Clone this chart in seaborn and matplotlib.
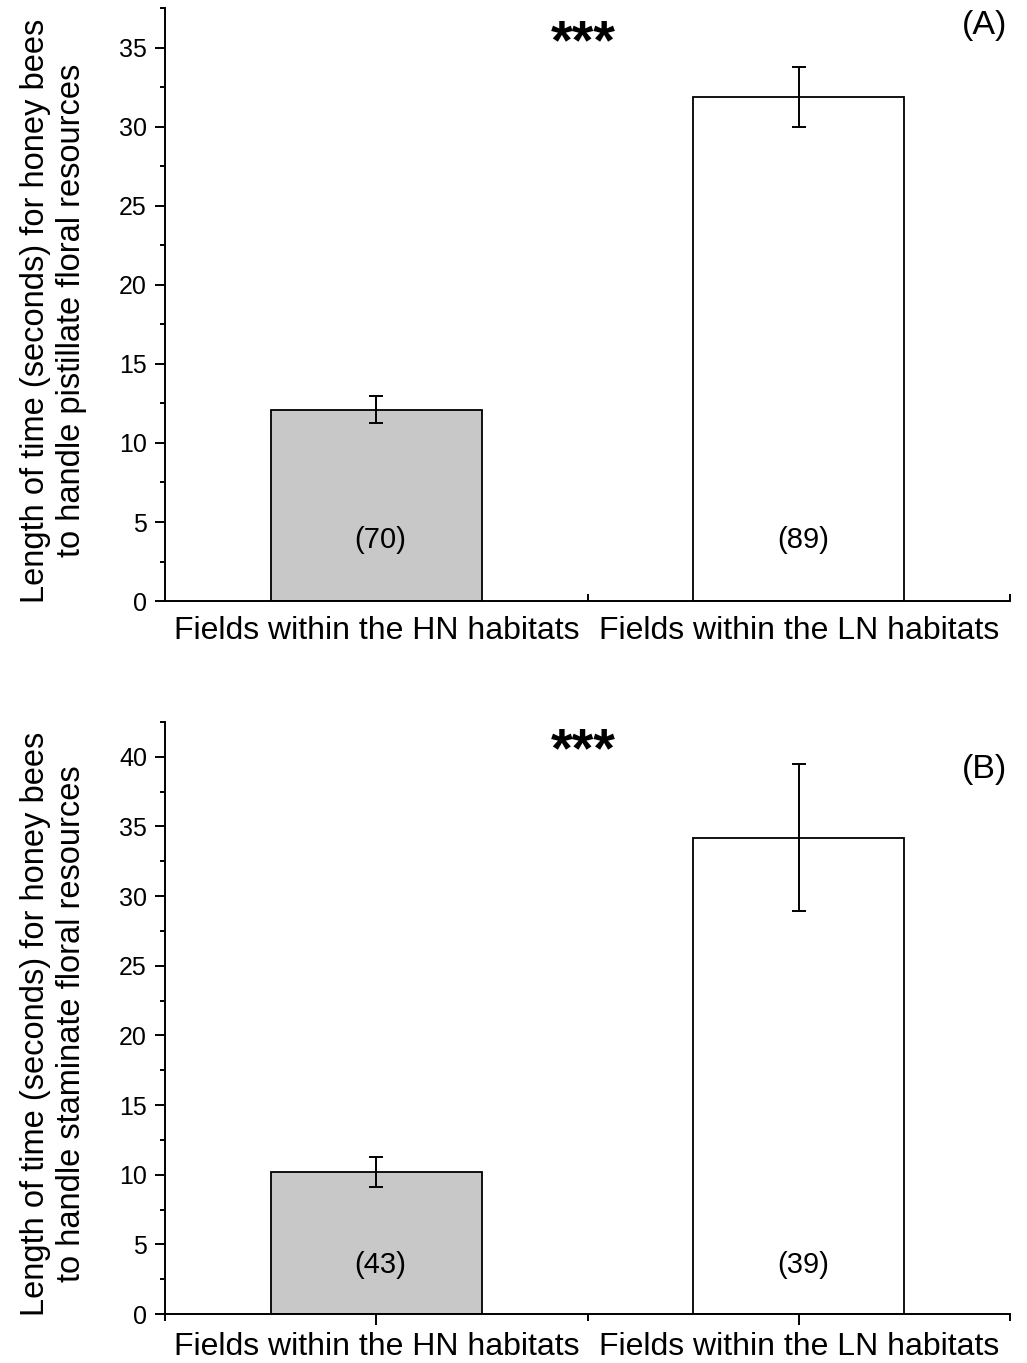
import matplotlib
matplotlib.use("Agg")
import matplotlib.pyplot as plt
import seaborn as sns
from matplotlib.ticker import MultipleLocator, FixedLocator

# Data
habitats = ["Fields within the HN habitats", "Fields within the LN habitats"]
bar_colors = ["#c8c8c8", "#ffffff"]

pist_mean = [12.1, 31.9]
pist_err = [0.86, 1.9]
pist_n = ["(70)", "(89)"]

stam_mean = [10.2, 34.2]
stam_err = [1.07, 5.3]
stam_n = ["(43)", "(39)"]

sns.set_style("ticks")
plt.rcParams['font.family'] = ['Liberation Sans', 'DejaVu Sans']
plt.rcParams['text.color'] = 'black'
plt.rcParams['axes.labelcolor'] = 'black'
plt.rcParams['xtick.color'] = 'black'
plt.rcParams['ytick.color'] = 'black'
plt.rcParams['axes.edgecolor'] = 'black'

fig = plt.figure(figsize=(10.27, 13.63), dpi=100)
axA = fig.add_axes([0.1607, 0.5590, 0.8228, 0.4351])
axB = fig.add_axes([0.1607, 0.0359, 0.8228, 0.4344])

panels = [
    (axA, pist_mean, pist_err, pist_n, 37.5, 3.86,
     "Length of time (seconds) for honey bees\nto handle pistillate floral resources",
     "(A)", 0.970, 0.916),
    (axB, stam_mean, stam_err, stam_n, 42.5, 3.5,
     "Length of time (seconds) for honey bees\nto handle staminate floral resources",
     "(B)", 0.920, 0.925),
]

for ax, means, errs, counts, ymax, ny, ylab, tag, tag_y, star_y in panels:
    sns.barplot(x=habitats, y=means, hue=habitats, palette=bar_colors,
                saturation=1, width=0.5, edgecolor="black", linewidth=1.3,
                errorbar=None, legend=False, ax=ax)
    xs = [p.get_x() + p.get_width() / 2 for p in ax.patches]
    ax.errorbar(xs, means, yerr=errs, fmt="none", ecolor="black",
                elinewidth=1.4, capsize=4.7, capthick=1.4)
    for x, c in zip(xs, counts):
        ax.text(x + 0.01, ny, c, ha="center", va="center", fontsize=21)

    ax.set_xlim(-0.5, 1.5)
    ax.set_ylim(0, ymax)
    ax.yaxis.set_major_locator(MultipleLocator(5))
    ax.yaxis.set_minor_locator(MultipleLocator(2.5))
    ax.tick_params(axis="y", which="major", direction="out", length=7,
                   width=1.4, labelsize=18, pad=6)
    ax.tick_params(axis="y", which="minor", direction="out", length=3.6,
                   width=1.4)
    ax.set_ylabel(ylab, fontsize=23.5, linespacing=1.2)
    ax.yaxis.set_label_coords(-0.092, 0.49)
    ax.set_xlabel("")
    sns.despine(ax=ax)
    for s in ["left", "bottom"]:
        ax.spines[s].set_linewidth(1.4)

    ax.text(0.970, tag_y, tag, transform=ax.transAxes, ha="center",
            va="center", fontsize=24.5)
    ax.text(0.495, star_y, "***", transform=ax.transAxes, ha="center",
            va="baseline", fontsize=40, fontweight="bold")

# panel A: inward minor ticks only
axA.xaxis.set_minor_locator(FixedLocator([0.5, 1.5]))
axA.tick_params(axis="x", which="major", length=0, labelsize=23, pad=11)
axA.tick_params(axis="x", which="minor", direction="in", length=5, width=1.4)

# panel B: outward ticks
axB.xaxis.set_minor_locator(FixedLocator([-0.5, 0.5, 1.5]))
axB.tick_params(axis="x", which="major", direction="out", length=8,
                width=1.4, labelsize=23, pad=5)
axB.tick_params(axis="x", which="minor", direction="out", length=5, width=1.4)

fig.savefig("out.png", dpi=100)
